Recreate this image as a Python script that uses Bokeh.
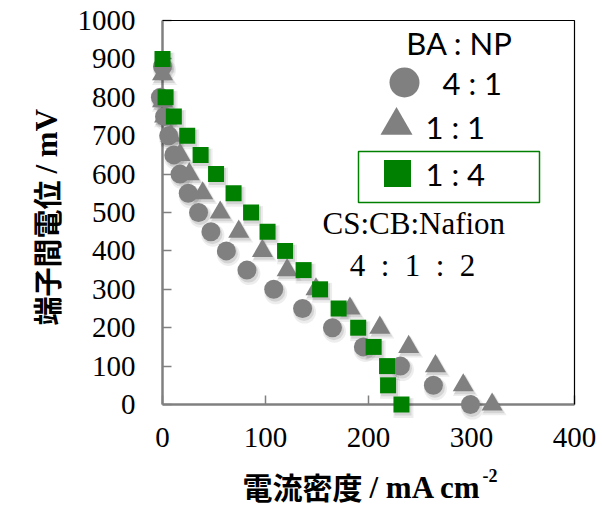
import math
from bokeh.plotting import figure
from bokeh.models import ColumnDataSource, Label, BoxAnnotation, FixedTicker
from bokeh.transform import dodge
from bokeh.embed import file_html
from bokeh.resources import INLINE

# ---------------- data ----------------
legend_title = "BA : NP"
series_names = ["4 : 1", "1 : 1", "1 : 4"]

cur_41 = [0, -2, 2, 6, 11, 17, 25, 35, 47, 62, 82, 108, 136, 165, 195, 231, 263, 299]
v_41 = [880, 800, 750, 700, 650, 600, 550, 500, 450, 400, 350, 300, 250, 200, 150, 100, 50, 0]

cur_11 = [0, 0, 2, 8, 17, 26, 39, 56, 74, 97, 121, 149, 182, 211, 239, 265, 292, 320]
v_11 = [860, 790, 750, 700, 650, 600, 550, 500, 450, 400, 350, 300, 250, 200, 150, 100, 50, 0]

cur_14 = [0, 3, 11, 24, 37, 52, 69, 86, 102, 119, 137, 153, 171, 190, 205, 218, 219, 232]
v_14 = [900, 800, 750, 700, 650, 600, 550, 500, 450, 400, 350, 300, 250, 200, 150, 100, 50, 0]

x_ticks = [0, 100, 200, 300, 400]
y_ticks = [0, 100, 200, 300, 400, 500, 600, 700, 800, 900, 1000]
X_MIN, X_MAX = 0, 400
Y_MIN, Y_MAX = 0, 1000

note_line1 = "CS:CB:Nafion"
note_line2 = "4 : 1 : 2"
x_title_cjk = "電流密度"
x_title_lat = "/ mA cm"
x_title_sup = "-2"
y_title_cjk = "端子間電位"
y_title_lat = "/ mV"

# ---------------- styles / layout ----------------
GREY = "#808080"
GREEN = "#008000"
SERIF = "Liberation Serif"
SANS = "Lato"
CJK = "Noto Sans CJK JP"
NB = "\u00a0"

# pixel geometry of the axes box (page pixels)
PX_X0, PX_X1 = 162, 574
PX_Y0, PX_Y1 = 404, 20
SX = (PX_X1 - PX_X0) / (X_MAX - X_MIN)
SY = (PX_Y0 - PX_Y1) / (Y_MAX - Y_MIN)


def dx(X):
    return X_MIN + (X - PX_X0) / SX


def dy(Y):
    return Y_MIN + (PX_Y0 - Y) / SY


W, H = 602, 509

# the frame covers the whole canvas; axes are placed at fixed locations
p = figure(
    width=W, height=H,
    x_range=(dx(0), dx(W)),
    y_range=(dy(H), dy(0)),
    output_backend="svg", toolbar_location=None,
    min_border_left=0, min_border_right=0, min_border_top=0, min_border_bottom=0,
)
p.outline_line_color = None
p.grid.visible = False
p.background_fill_color = "white"
p.border_fill_color = "white"

for ax, ticks, bounds, standoff in ((p.xaxis, x_ticks, (X_MIN, X_MAX), 23),
                                    (p.yaxis, y_ticks, (Y_MIN, Y_MAX), 27)):
    ax.fixed_location = 0
    ax.bounds = bounds
    ax.ticker = FixedTicker(ticks=ticks)
    ax.axis_line_color = GREY
    ax.axis_line_width = 2.5
    ax.major_tick_in = 9
    ax.major_tick_out = 0
    ax.major_tick_line_color = GREY
    ax.major_tick_line_width = 1.5
    ax.minor_tick_line_color = None
    ax.major_label_text_font = SERIF
    ax.major_label_text_font_size = "29px"
    ax.major_label_text_color = "black"
    ax.major_label_standoff = standoff
    ax.level = "underlay"

# top and right frame borders
p.line(x=[X_MIN, X_MAX, X_MAX], y=[Y_MAX, Y_MAX, Y_MIN], line_color="black", line_width=1.2)

# ---------------- series ----------------
series = [
    (cur_41, v_41, "circle", 19, GREY),
    (cur_11, v_11, "triangle", 21, GREY),
    (cur_14, v_14, "square", 16, GREEN),
]
sources = [ColumnDataSource(dict(x=c, y=v)) for c, v, *_ in series]

# soft drop shadows
for src, (c, v, mk, sz, col) in zip(sources, series):
    p.scatter(x=dodge("x", 2.0 / SX), y=dodge("y", -3.5 / SY), source=src, marker=mk,
              size=sz + 4, fill_color="black", fill_alpha=0.07, line_color=None)
    p.scatter(x=dodge("x", 1.5 / SX), y=dodge("y", -2.5 / SY), source=src, marker=mk,
              size=sz + 1, fill_color="black", fill_alpha=0.10, line_color=None)

for src, (c, v, mk, sz, col) in zip(sources, series):
    p.scatter(x="x", y="y", source=src, marker=mk, size=sz, fill_color=col, line_color=None)

# ---------------- legend (drawn manually) ----------------
leg_src = ColumnDataSource(dict(
    x=[dx(404), dx(396), dx(397)],
    y=[dy(82), dy(125), dy(173)],
    marker=["circle", "triangle", "square"],
    size=[30, 32, 27],
    color=[GREY, GREY, GREEN],
))
p.scatter(x="x", y="y", marker="marker", size="size", fill_color="color",
          line_color=None, source=leg_src)

p.add_layout(BoxAnnotation(left=dx(358), right=dx(539), top=dy(151), bottom=dy(202),
                           fill_color=None, fill_alpha=0, line_color=GREEN,
                           line_alpha=1.0, line_width=1.5))


def lab(X, Y, text, font, size, align="left", style="normal", angle=0.0, baseline="middle"):
    p.add_layout(Label(x=dx(X), y=dy(Y), text=text, text_font=font,
                       text_font_size=f"{size}px", text_font_style=style,
                       text_align=align, text_baseline=baseline, angle=angle,
                       text_color="black"))


lab(459, 42, legend_title, SANS, 31, align="center")
lab(442, 82, series_names[0], SANS, 31)
lab(425, 126, series_names[1], SANS, 31)
lab(425, 173, series_names[2], SANS, 31)
lab(322, 223, note_line1, SERIF, 31)
lab(412, 265, note_line2.replace(" ", NB * 2), SERIF, 31, align="center")

# x title
XL = 362
lab(XL, 485, x_title_cjk, CJK, 30, align="right", style="bold")
lab(XL + 7, 487, x_title_lat, SERIF, 31, style="bold")
lab(XL + 120, 475, x_title_sup, SERIF, 18, style="bold")

# y title (rotated)
YS = 180
lab(45, YS, y_title_cjk, CJK, 29, align="right", style="bold", angle=math.pi / 2)
lab(46, YS - 7, y_title_lat, SERIF, 31, style="bold", angle=math.pi / 2)

open("out.html", "w").write(file_html(p, INLINE))
